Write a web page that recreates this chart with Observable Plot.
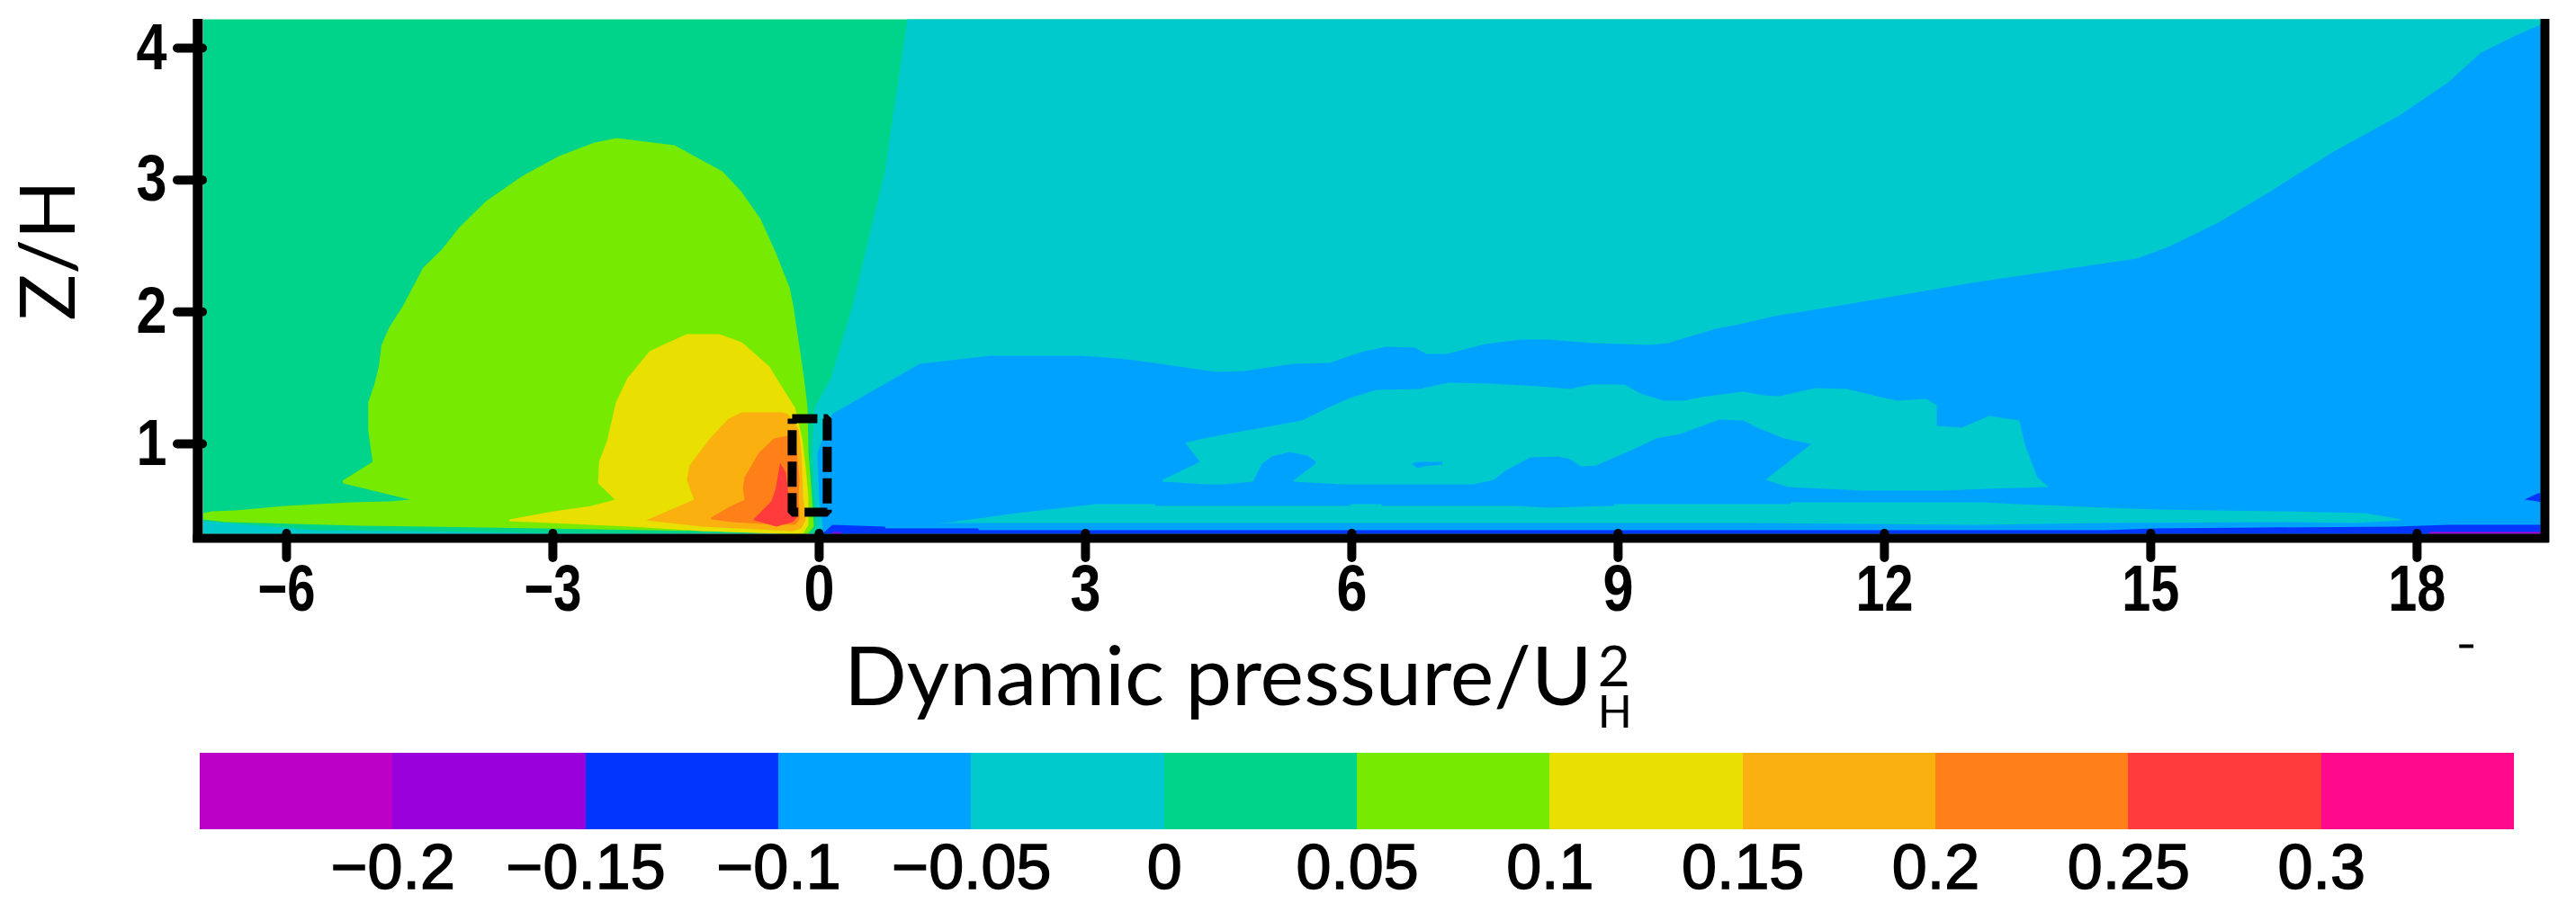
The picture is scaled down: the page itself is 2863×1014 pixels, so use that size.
<!DOCTYPE html>
<html><head><meta charset="utf-8">
<script src="https://cdn.jsdelivr.net/npm/d3@7"></script>
<script src="https://cdn.jsdelivr.net/npm/@observablehq/plot@0.6"></script>
<style>html,body{margin:0;padding:0;background:#fff;overflow:hidden}svg{display:block}</style>
</head><body><div id="chart"></div>
<script>
const xTicks=[-6,-3,0,3,6,9,12,15,18];
const zTicks=[1,2,3,4];
const levelEdges=[-0.25,-0.2,-0.15,-0.1,-0.05,0,0.05,0.1,0.15,0.2,0.25,0.3,0.35];
const levelLabels=[-0.2,-0.15,-0.1,-0.05,0,0.05,0.1,0.15,0.2,0.25,0.3];
const levelColors=["#BC00C8","#9900DC","#0036FF","#00A2FF","#00CACC","#00D48A","#76EA00","#E9DF00","#FAB00F","#FF8019","#FF3B3B","#FF0A8C"];
const [cPurple,cViolet,cDeep,cBlue,cCyan,cGreen,cLime,cYellow,cAmber,cOrange,cRed,cPink]=levelColors;

const cyanRegion=[[0.993,4.218],[0.74,3.066],[0.375,2.043],[0.132,1.498],[-0.051,1.273],[-0.081,0.932],[-0.051,0.591],[-0.02,0.386],[-0.051,0.318],[19.39,0.318],[19.39,4.218]];
const blueRegion=[[0.709,1.443],[0.142,1.225],[-0.02,0.932],[0,0.591],[0.041,0.373],[0.02,0.318],[19.39,0.318],[19.39,4.177],[19.09,4.089],[18.72,3.966],[18.35,3.741],[17.8,3.489],[17.06,3.216],[16.32,2.902],[15.76,2.677],[15.2,2.493],[14.84,2.405],[12.98,2.22],[11.69,2.07],[10.76,1.968],[10.37,1.907],[10.1,1.873],[9.76,1.804],[9.56,1.764],[9.35,1.75],[8.72,1.764],[8.21,1.791],[7.91,1.791],[7.5,1.757],[7.07,1.682],[6.84,1.682],[6.71,1.73],[6.39,1.736],[6.1,1.695],[5.75,1.614],[5.34,1.607],[4.79,1.552],[4.48,1.545],[4.26,1.566],[3.78,1.614],[3.37,1.648],[2.94,1.668],[1.93,1.668],[1.135,1.607]];
const cyanIsland=[[4.125,1.007],[4.33,1.041],[4.76,1.095],[5,1.123],[5.44,1.177],[5.75,1.279],[5.98,1.348],[6.28,1.409],[6.76,1.416],[7.09,1.464],[7.55,1.457],[8.11,1.436],[8.46,1.416],[8.69,1.45],[9.07,1.45],[9.25,1.382],[9.51,1.327],[9.75,1.327],[9.93,1.355],[10.41,1.395],[10.64,1.368],[10.82,1.361],[11.22,1.423],[11.58,1.416],[11.96,1.355],[12.14,1.327],[12.47,1.341],[12.59,1.293],[12.59,1.136],[12.87,1.123],[13.18,1.211],[13.52,1.177],[13.58,1],[13.72,0.748],[13.85,0.673],[13.15,0.659],[12.64,0.645],[11.76,0.645],[10.92,0.673],[10.66,0.727],[11.18,1],[10.87,1.041],[10.57,1.123],[10.41,1.177],[10.14,1.184],[9.7,1.075],[9.43,1.041],[9.15,0.952],[8.75,0.836],[8.58,0.83],[8.46,0.884],[8.33,0.905],[8.01,0.898],[7.73,0.795],[7.6,0.727],[7.37,0.693],[6.89,0.693],[6.51,0.693],[5.88,0.693],[5.34,0.714],[5.35,0.727],[5.57,0.836],[5.6,0.864],[5.5,0.911],[5.3,0.939],[5.1,0.905],[4.99,0.85],[4.885,0.714],[4.56,0.693],[4.36,0.693],[3.87,0.714],[3.87,0.727],[4.29,0.864]];
const blueBlob=[[6.67,0.85],[6.74,0.864],[7.02,0.864],[7.02,0.843],[6.82,0.83],[6.74,0.816]];
const cyanStrip=[[1.32,0.4],[1.49,0.407],[2.23,0.475],[2.94,0.53],[3.11,0.543],[3.78,0.543],[3.79,0.53],[5.98,0.53],[5.99,0.543],[6.33,0.543],[6.34,0.53],[7.87,0.53],[8.21,0.516],[8.95,0.53],[8.96,0.543],[10.94,0.543],[10.95,0.557],[13.1,0.557],[13.5,0.543],[14.49,0.516],[15.07,0.502],[16.42,0.489],[17.41,0.475],[17.6,0.455],[17.82,0.427],[17.82,0.42],[17.31,0.4],[16.55,0.407],[14.49,0.4],[13.04,0.386],[10.51,0.4]];
const deepStrip=[[0.03,0.318],[0.07,0.339],[0.15,0.386],[0.74,0.373],[0.75,0.359],[1.79,0.359],[1.8,0.346],[14.49,0.346],[15.07,0.359],[17.76,0.373],[18.36,0.386],[19.39,0.386],[19.39,0.318]];
const deepTip=[[19.21,0.577],[19.36,0.625],[19.39,0.625],[19.39,0.557],[19.36,0.564]];
const violetNearWall=[[0.15,0.332],[0.25,0.332],[0.25,0.318],[0.15,0.318]];
const violetFar=[[18.14,0.332],[19.39,0.332],[19.39,0.318],[18.14,0.318]];
const limeLobe=[[-6.94,0.475],[-6.84,0.489],[-6.58,0.495],[-6.01,0.53],[-5.65,0.543],[-5.26,0.557],[-4.84,0.564],[-4.61,0.577],[-4.9,0.625],[-5.36,0.7],[-5.37,0.72],[-5.03,0.864],[-5.08,1.102],[-5.08,1.314],[-5.01,1.45],[-4.96,1.586],[-4.93,1.75],[-4.84,1.886],[-4.69,2.043],[-4.46,2.336],[-4.26,2.466],[-4.05,2.643],[-3.75,2.841],[-3.34,3.032],[-2.93,3.182],[-2.53,3.284],[-2.28,3.318],[-1.63,3.264],[-1.09,3.066],[-0.88,2.916],[-0.66,2.704],[-0.49,2.452],[-0.33,2.179],[-0.29,2.043],[-0.24,1.818],[-0.17,1.498],[-0.13,1.273],[-0.12,0.932],[-0.08,0.591],[-0.06,0.373],[-0.13,0.318],[-0.3,0.318],[-1.32,0.339],[-3.14,0.359],[-5.17,0.38],[-6.69,0.407],[-6.94,0.427]];
const cyanFloor=[[-6.94,0.414],[-5.68,0.346],[-3.14,0.325],[-1.11,0.318],[-6.94,0.318]];
const yellowLobe=[[-3.49,0.427],[-2.99,0.489],[-2.57,0.53],[-2.3,0.577],[-2.49,0.7],[-2.48,0.864],[-2.39,1.02],[-2.29,1.314],[-2.16,1.498],[-1.91,1.702],[-1.74,1.757],[-1.49,1.832],[-1.125,1.832],[-0.87,1.771],[-0.56,1.586],[-0.48,1.498],[-0.27,1.273],[-0.19,1.041],[-0.15,0.816],[-0.12,0.591],[-0.12,0.386],[-0.18,0.318],[-0.41,0.318],[-1.32,0.339],[-2.13,0.373],[-3.49,0.414]];
const amberLobe=[[-1.95,0.42],[-1.41,0.577],[-1.49,0.727],[-1.46,0.836],[-1.23,1.041],[-1.02,1.191],[-0.87,1.238],[-0.41,1.238],[-0.35,1.225],[-0.23,1.109],[-0.2,0.932],[-0.18,0.591],[-0.15,0.427],[-0.2,0.359],[-0.3,0.339],[-1.32,0.373]];
const orangeLobe=[[-1.22,0.441],[-1.01,0.523],[-0.84,0.577],[-0.86,0.659],[-0.84,0.748],[-0.68,0.932],[-0.51,1.041],[-0.41,1.054],[-0.35,1.061],[-0.25,0.932],[-0.22,0.727],[-0.23,0.632],[-0.22,0.427],[-0.27,0.386],[-0.64,0.393],[-0.98,0.407],[-1.22,0.427]];
const redCore=[[-0.44,0.857],[-0.49,0.659],[-0.54,0.564],[-0.74,0.427],[-0.73,0.42],[-0.48,0.373],[-0.3,0.407],[-0.25,0.441],[-0.35,0.543],[-0.35,0.645],[-0.375,0.782]];
const dashedBox=[[-0.304,1.19],[0.091,1.19],[0.091,0.482],[-0.304,0.482],[-0.304,1.19]];

const layers=[
 [cyanRegion,cCyan],[blueRegion,cBlue],[cyanIsland,cCyan],[blueBlob,cBlue],[cyanStrip,cCyan],
 [deepStrip,cDeep],[deepTip,cDeep],[violetNearWall,cViolet],[violetFar,cPurple],
 [limeLobe,cLime],[cyanFloor,cCyan],[yellowLobe,cYellow],[amberLobe,cAmber],[orangeLobe,cOrange],[redCore,cRed]
];
const px=d=>d[0],pz=d=>d[1];
const tickFont={fontFamily:"'Liberation Sans',sans-serif",fontWeight:"bold",fontSize:72};
const labelFont="Lato,'Open Sans',sans-serif";

const main=Plot.plot({
  width:2863,height:800,marginLeft:225,marginRight:40,marginTop:21,marginBottom:207,
  style:{background:"white",overflow:"visible"},
  x:{domain:[-6.942,19.39],label:null,axis:null},
  y:{domain:[0.318,4.218],label:null,axis:null},
  marks:[
    Plot.frame({fill:cGreen,stroke:"none"}),
    ...layers.map(([pts,col])=>Plot.line(pts,{x:px,y:pz,fill:col,stroke:"none"})),
    Plot.line(dashedBox,{x:px,y:pz,stroke:"black",strokeWidth:10,strokeDasharray:"28,7",strokeLinecap:"butt",strokeLinejoin:"miter"}),
    Plot.axisX({ticks:xTicks,tickSize:27,tickPadding:7,strokeWidth:10,strokeLinecap:"round",tickFormat:d3.format("d"),label:null,...tickFont}),
    Plot.axisY({ticks:zTicks,tickSize:28,tickPadding:12,strokeWidth:10,strokeLinecap:"round",tickFormat:d3.format("d"),label:null,...tickFont}),
    Plot.ruleX([-7],{y1:0.25,y2:4.218,strokeWidth:11}),
    Plot.ruleX([19.44],{y1:0.25,y2:4.218,strokeWidth:10}),
    Plot.ruleY([0.284],{x1:-7.05,x2:19.49,strokeWidth:10}),
    Plot.ruleY([-0.534],{x1:18.48,x2:18.64,strokeWidth:4}),
    Plot.text(["Z/H"],{x:-8.67,y:2.466,rotate:-90,fontFamily:labelFont,fontSize:86,fill:"black"}),
    Plot.text(["Dynamic pressure/U"],{x:0.28,y:-0.984,textAnchor:"start",lineAnchor:"bottom",fontFamily:labelFont,fontSize:92,fill:"black"}),
    Plot.text(["2"],{x:8.77,y:-0.84,textAnchor:"start",lineAnchor:"bottom",fontFamily:labelFont,fontSize:62,fill:"black"}),
    Plot.text(["H"],{x:8.77,y:-1.154,textAnchor:"start",lineAnchor:"bottom",fontFamily:labelFont,fontSize:50,fill:"black"})
  ]
});
// Tick digits in the reference are narrow and heavy: squeeze the real text to that width.
d3.select(main).selectAll('g[aria-label$="tick label"] text').each(function(){
  const n=this.textContent.length;
  d3.select(this).attr("lengthAdjust","spacingAndGlyphs").attr("textLength",n===1?34:64);
});

const bins=levelColors.map((c,i)=>({a:levelEdges[i],b:levelEdges[i+1],c}));
const bar=Plot.plot({
  width:2863,height:214,marginLeft:222,marginRight:69,marginTop:37,marginBottom:92,
  style:{background:"white",overflow:"visible"},
  x:{domain:[levelEdges[0],levelEdges[levelEdges.length-1]],label:null,axis:null},
  y:{domain:[0,1],label:null,axis:null},
  marks:[
    Plot.rect(bins,{x1:"a",x2:"b",y1:0,y2:1,fill:d=>d.c,inset:0,shapeRendering:"crispEdges"}),
    Plot.axisX({ticks:levelLabels,tickSize:0,tickPadding:16,tickFormat:d3.format("~g"),label:null,fontFamily:"'Liberation Sans',sans-serif",fontSize:70,stroke:"none",fill:"black"})
  ]
});
d3.select(bar).selectAll('g[aria-label$="tick label"] text').attr("stroke","black").attr("stroke-width",1.5);
const host=document.getElementById("chart");
host.append(main,bar);
</script></body></html>
